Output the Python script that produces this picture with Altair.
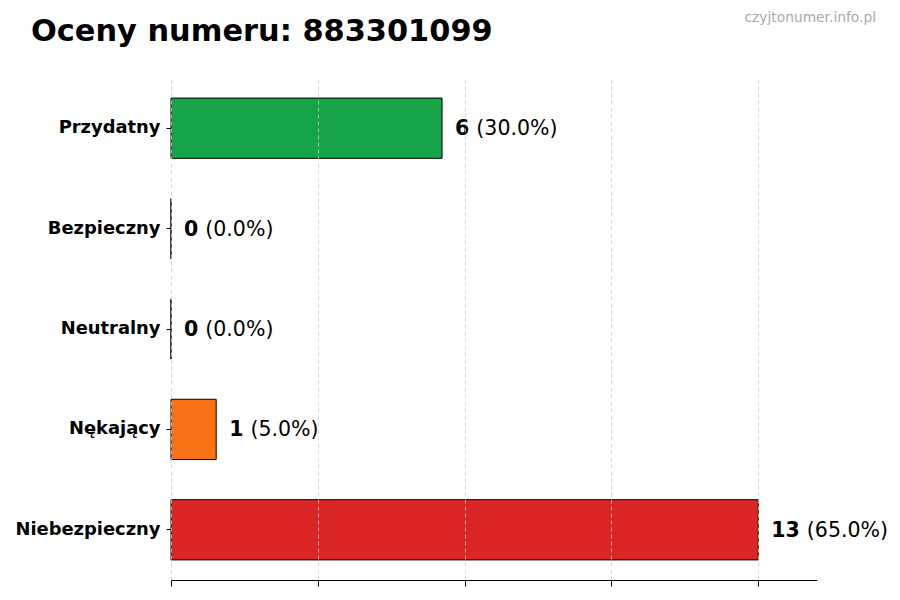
import altair as alt
import pandas as pd

categories = ["Przydatny", "Bezpieczny", "Neutralny", "Nękający", "Niebezpieczny"]
counts = [6, 0, 0, 1, 13]
percents = [30.0, 0.0, 0.0, 5.0, 65.0]
colors = ["#16a34a", "#4ade80", "#9ca3af", "#f97316", "#dc2626"]
x_ticks = [0, 3.25, 6.5, 9.75, 13]
title_text = "Oceny numeru: 883301099"
watermark = "czyjtonumer.info.pl"

df = pd.DataFrame({
    "category": categories,
    "count": counts,
    "pct": percents,
    "color": colors,
})
df["n_label"] = df["count"].astype(str)
df["pct_label"] = df["pct"].map(lambda v: f"({v:.1f}%)")

FONT = "DejaVu Sans"

y_enc = alt.Y(
    "category:N",
    sort=categories,
    title=None,
    scale=alt.Scale(paddingInner=0.4, paddingOuter=0.2),
    axis=alt.Axis(
        domain=False,
        ticks=True,
        tickSize=5,
        tickColor="black",
        labelFont=FONT,
        labelFontSize=17.9,
        labelFontWeight="bold",
        labelColor="black",
        labelPadding=6,
        grid=False,
    ),
)

x_enc = alt.X(
    "count:Q",
    title=None,
    scale=alt.Scale(domain=[0, 14.3], nice=False, zero=True),
    axis=alt.Axis(
        values=x_ticks,
        labels=False,
        domain=True,
        domainColor="black",
        domainWidth=1,
        ticks=True,
        tickSize=6,
        tickColor="black",
        grid=True,
        gridColor="#cccccc",
        gridDash=[4, 3],
        gridWidth=0.8,
        zindex=1,
    ),
)

base = alt.Chart(df)

bars = base.mark_bar(stroke="black", strokeWidth=1, opacity=1).encode(
    x=x_enc,
    y=y_enc,
    color=alt.Color("color:N", scale=None, legend=None),
)

num_text = base.mark_text(
    align="left", baseline="middle", dy=1, dx=13, font=FONT, fontSize=20.5,
    fontWeight="bold", color="black",
).encode(
    x="count:Q",
    y=alt.Y("category:N", sort=categories),
    text="n_label:N",
)

pct_text = base.mark_text(
    align="left", baseline="middle", dy=1,
    dx=alt.ExprRef(expr="13 + length(datum.n_label) * 14.3 + 7"),
    font=FONT, fontSize=20.5, fontWeight="normal", color="black",
).encode(
    x="count:Q",
    y=alt.Y("category:N", sort=categories),
    text="pct_label:N",
)

wm = alt.Chart(pd.DataFrame({"t": [watermark]})).mark_text(
    align="right", baseline="alphabetic", font=FONT, fontSize=13.8, color="#aaaaaa",
).encode(
    x=alt.value(705),
    y=alt.value(-56),
    text="t:N",
)

title = alt.Chart(pd.DataFrame({"t": [title_text]})).mark_text(
    align="left", baseline="alphabetic", font=FONT, fontSize=30.4,
    fontWeight="bold", color="black",
).encode(
    x=alt.value(-140),
    y=alt.value(-37),
    text="t:N",
)

chart = alt.layer(bars, num_text, pct_text, wm, title).properties(
    width=646,
    height=502,
    padding={"left": 163, "top": 70, "right": 75, "bottom": 12},
    autosize=alt.AutoSizeParams(type="none"),
    background="white",
).configure_view(strokeWidth=0, stroke="transparent")

chart.save("out.html", embed_options={"renderer": "svg", "actions": False})
